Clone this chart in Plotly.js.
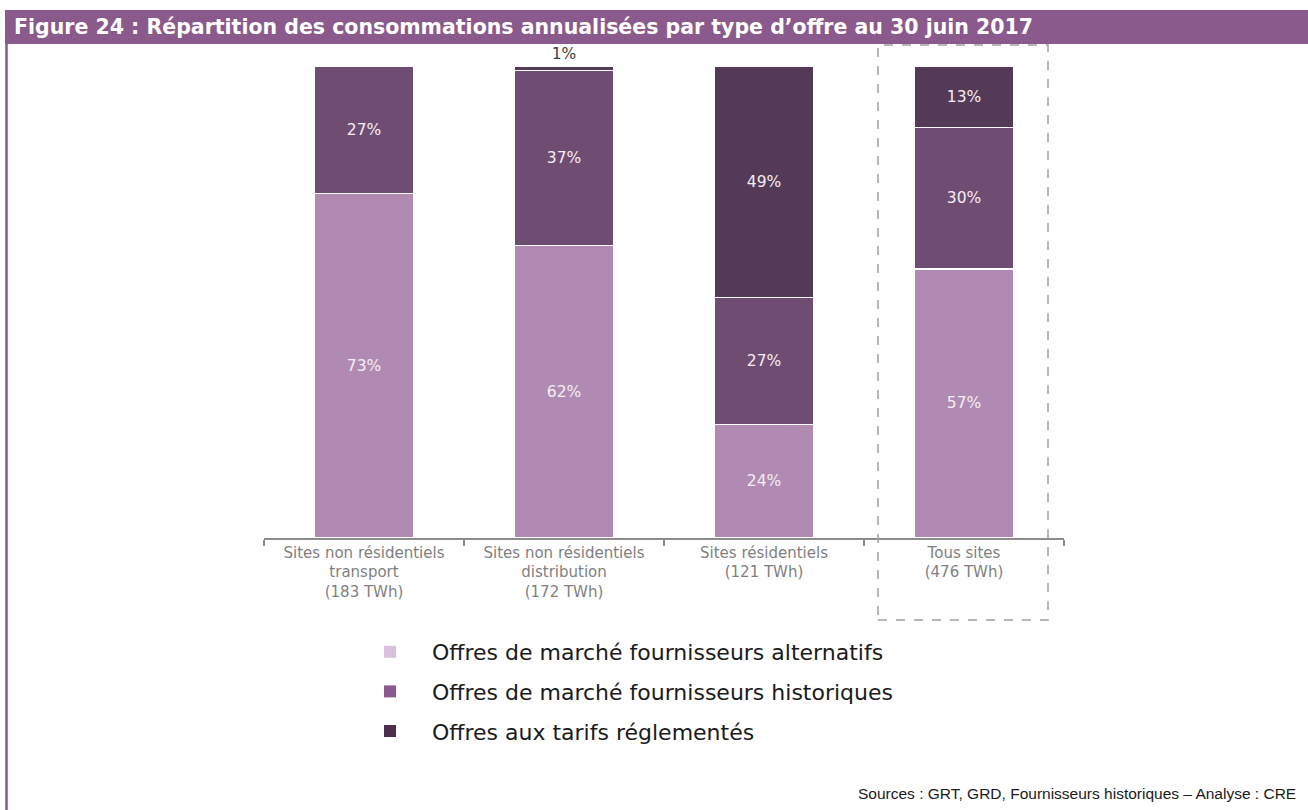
<!DOCTYPE html>
<html>
<head>
<meta charset="utf-8">
<script src="https://cdn.plot.ly/plotly-3.0.1.min.js"></script>
<style>
  html, body { margin: 0; padding: 0; background: #fff; }
  #chart { width: 1308px; height: 810px; }
</style>
</head>
<body>
<div id="chart"></div>
<script>
var categories = [
  'Sites non résidentiels<br>transport<br>(183 TWh)',
  'Sites non résidentiels<br>distribution<br>(172 TWh)',
  'Sites résidentiels<br>(121 TWh)',
  'Tous sites<br>(476 TWh)'
];
var alternatifs = [73, 62, 24, 57];
var historiques = [27, 37, 27, 30];
var tarifs = [0, 1, 49, 13];
var seriesNames = [
  'Offres de marché fournisseurs alternatifs',
  'Offres de marché fournisseurs historiques',
  'Offres aux tarifs réglementés'
];

var barColors = ['#b08ab3', '#6f4c72', '#553a57'];
var legendColors = ['#d8c1da', '#8b5a8c', '#4b2f4b'];

// plot area in pixels
var L = 264, R = 1064, T = 66, B = 538;
var W = R - L, H = B - T;
function px(x) { return (x - L) / W; }
function py(y) { return (B - y) / H; }

function pctLabels(vals) {
  return vals.map(function (v) { return v > 0 ? v + '%' : ''; });
}

function segment(vals, i) {
  return {
    x: categories,
    y: vals,
    type: 'bar',
    name: seriesNames[i],
    showlegend: false,
    marker: { color: barColors[i], line: { color: '#ffffff', width: 1.5 } },
    text: pctLabels(vals),
    textposition: 'inside',
    insidetextanchor: 'middle',
    insidetextfont: { color: '#f4eef4', size: 15.5, family: 'DejaVu Sans, sans-serif' },
    outsidetextfont: { color: '#404040', size: 15.5, family: 'DejaVu Sans, sans-serif' },
    constraintext: 'none',
    cliponaxis: false,
    hoverinfo: 'x+y+name'
  };
}

var trace1 = segment(alternatifs, 0);
var trace2 = segment(historiques, 1);
var trace3 = segment(tarifs, 2);
trace3.textposition = tarifs.map(function (v) { return v < 5 ? 'outside' : 'inside'; });

// legend entries (legend squares use slightly different shades)
var legendTraces = seriesNames.map(function (n, i) {
  return {
    x: [categories[0]], y: [null], type: 'bar', name: n,
    legendgroup: 'g' + i,
    marker: { color: legendColors[i] },
    hoverinfo: 'skip'
  };
});

var data = [trace1, trace2, trace3].concat(legendTraces);

var layout = {
  width: 1308,
  height: 810,
  margin: { l: L, r: 1308 - R, t: T, b: 810 - B },
  paper_bgcolor: '#ffffff',
  plot_bgcolor: '#ffffff',
  barmode: 'stack',
  bargap: 0.505,
  showlegend: true,
  legend: {
    orientation: 'v',
    x: px(348), xanchor: 'left',
    y: py(631), yanchor: 'top',
    traceorder: 'grouped',
    tracegroupgap: 8,
    itemwidth: 74,
    font: { family: 'DejaVu Sans, sans-serif', size: 22, color: '#1a1a1a' },
    bgcolor: 'rgba(0,0,0,0)'
  },
  xaxis: {
    type: 'category',
    range: [-0.5, 3.5],
    showline: true, linecolor: '#8c8c8c', linewidth: 1.5,
    ticks: 'outside', tickson: 'boundaries', ticklen: 6, tickcolor: '#8c8c8c', tickwidth: 1.5,
    tickfont: { family: 'DejaVu Sans, sans-serif', size: 15, color: '#7f7f7f' },
    showgrid: false, zeroline: false, fixedrange: true
  },
  yaxis: {
    range: [0, 100],
    visible: false, showgrid: false, zeroline: false, fixedrange: true
  },
  shapes: [
    // header band
    { type: 'rect', xref: 'paper', yref: 'paper', x0: px(5), x1: px(1308), y0: py(44), y1: py(10),
      fillcolor: '#8b5a8c', line: { width: 0 }, layer: 'below' },
    // left border line
    { type: 'line', xref: 'paper', yref: 'paper', x0: px(6.5), x1: px(6.5), y0: py(44), y1: py(810),
      line: { color: '#8b5a8c', width: 2.5 } },
    // dashed frame around "Tous sites"
    { type: 'rect', xref: 'x', yref: 'paper', x0: 2.57, x1: 3.42, y0: py(620), y1: py(45),
      line: { color: '#a0a0a0', width: 1.5, dash: 'dash' }, fillcolor: 'rgba(0,0,0,0)' }
  ],
  annotations: [
    { xref: 'paper', yref: 'paper', x: px(12), y: py(27), xanchor: 'left', yanchor: 'middle',
      text: 'Figure 24 : Répartition des consommations annualisées par type d’offre au 30 juin 2017',
      showarrow: false, font: { family: 'DejaVu Sans, sans-serif', size: 20.5, color: '#ffffff', weight: 600 } },
    { xref: 'paper', yref: 'paper', x: px(1298), y: py(793), xanchor: 'right', yanchor: 'middle',
      text: 'Sources : GRT, GRD, Fournisseurs historiques – Analyse : CRE',
      showarrow: false, font: { family: 'Liberation Sans, Arial, sans-serif', size: 15.5, color: '#1a1a1a' } }
  ]
};

Plotly.newPlot('chart', data, layout, { displayModeBar: false, staticPlot: true });
</script>
</body>
</html>
